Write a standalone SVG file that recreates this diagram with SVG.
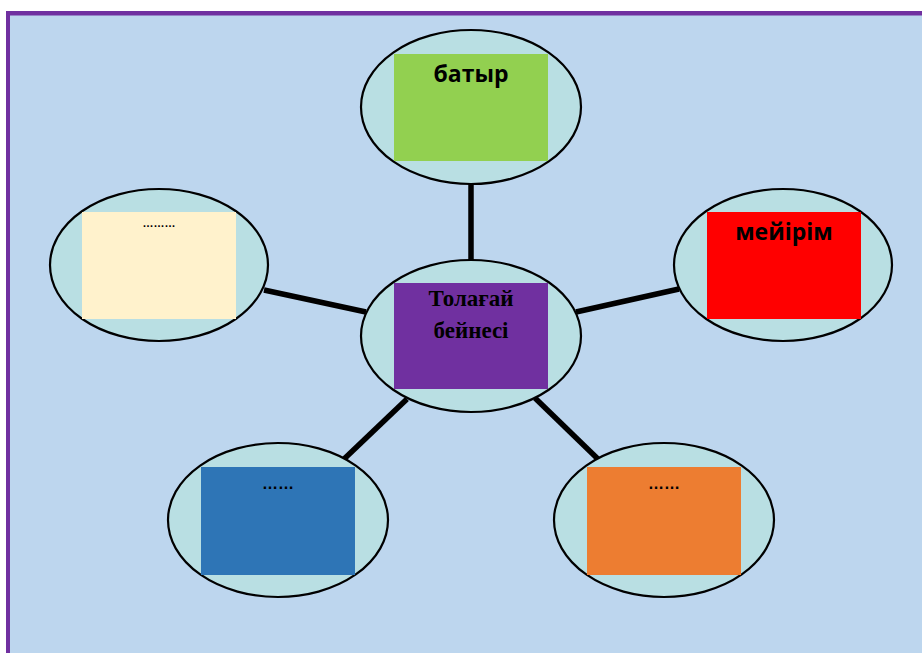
<svg xmlns="http://www.w3.org/2000/svg" width="922" height="653" viewBox="0 0 922 653">
<defs>
<style>
.bub{fill:#B9DFE3;stroke:#000;stroke-width:2.2}
.lnk{stroke:#000;stroke-width:5.5;stroke-linecap:butt;fill:none}
.sans{font-family:"Open Sans","Noto Sans","DejaVu Sans",sans-serif;font-weight:bold;font-size:23px;fill:#000;text-anchor:middle}
.serif{font-family:"Liberation Serif","Times New Roman",serif;font-weight:bold;font-size:23px;fill:#000;text-anchor:middle}
.dots{font-family:"Liberation Sans",Arial,sans-serif;font-weight:bold;fill:#000;text-anchor:middle}
</style>
</defs>
<rect x="0" y="0" width="922" height="653" fill="#FFFFFF"/>
<rect x="10" y="15" width="912" height="638" fill="#BDD6EE"/>
<rect x="6" y="11" width="916" height="4.5" fill="#7030A0"/>
<rect x="6" y="11" width="4" height="642" fill="#7030A0"/>
<g id="connectors">
<line class="lnk" x1="471" y1="184" x2="471" y2="260"/>
<line class="lnk" x1="264" y1="290" x2="366" y2="312"/>
<line class="lnk" x1="576" y1="312" x2="679" y2="289"/>
<line class="lnk" x1="343" y1="460" x2="407" y2="399"/>
<line class="lnk" x1="535" y1="398" x2="600" y2="461"/>
</g>
<g id="node-top">
<ellipse class="bub" cx="471" cy="107" rx="110" ry="77"/>
<rect x="394" y="54" width="154" height="107" fill="#92D050"/>
<text class="sans" x="471" y="82">батыр</text>
</g>
<g id="node-center">
<ellipse class="bub" cx="471" cy="336" rx="110" ry="76"/>
<rect x="394" y="283" width="154" height="106" fill="#7030A0"/>
<text class="serif" x="471" y="306">Толағай</text>
<text class="serif" x="471" y="338">бейнесі</text>
</g>
<g id="node-left">
<ellipse class="bub" cx="159" cy="265" rx="109" ry="76"/>
<rect x="82" y="212" width="154" height="107" fill="#FFF2CC"/>
<text class="dots" x="159" y="227" font-size="11">………</text>
</g>
<g id="node-right">
<ellipse class="bub" cx="783" cy="265" rx="109" ry="76"/>
<rect x="707" y="212" width="154" height="107" fill="#FF0000"/>
<text class="sans" x="784" y="240">мейірім</text>
</g>
<g id="node-bottom-left">
<ellipse class="bub" cx="278" cy="520" rx="110" ry="77"/>
<rect x="201" y="467" width="154" height="108" fill="#2E75B6"/>
<text class="dots" x="278" y="489" font-size="16">……</text>
</g>
<g id="node-bottom-right">
<ellipse class="bub" cx="664" cy="520" rx="110" ry="77"/>
<rect x="587" y="467" width="154" height="108" fill="#ED7D31"/>
<text class="dots" x="664" y="489" font-size="16">……</text>
</g>
</svg>
